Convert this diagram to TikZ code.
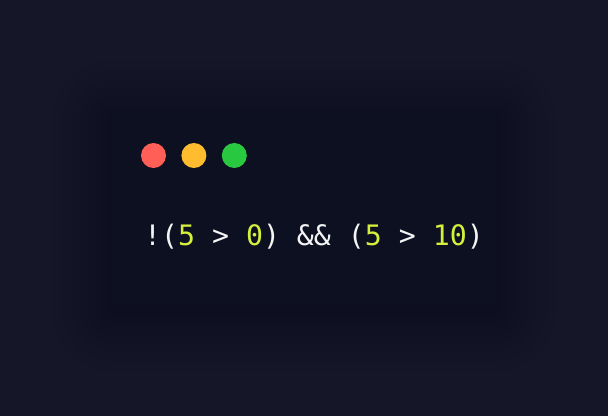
\documentclass[tikz,border=0pt]{standalone}
\usepackage{fontspec}
\setmonofont{DejaVu Sans Mono}
\usepackage{tikz}
\usetikzlibrary{positioning}
\definecolor{bgcol}{HTML}{151729}
\definecolor{wincol}{HTML}{0D1020}
\definecolor{shadecol}{HTML}{0A0C18}
\definecolor{dotred}{HTML}{FF5F57}
\definecolor{dotyel}{HTML}{FEBC2E}
\definecolor{dotgrn}{HTML}{28C840}
\definecolor{numcol}{HTML}{D4F03C}
\definecolor{txtcol}{HTML}{F4F4F4}
\tikzstyle{dot}=[circle,minimum size=25pt,inner sep=0,node distance=40pt]
\tikzstyle{code}=[font=\ttfamily\fontsize{28.2}{28}\selectfont,text=txtcol,inner sep=0]
\newcommand{\num}[1]{\textcolor{numcol}{#1}}

\begin{document}
\begin{tikzpicture}[x=1pt,y=-1pt]
  \fill[bgcol] (0,0) rectangle (608,416);
  \useasboundingbox (0,0) rectangle (608,416);
  % soft shadow round the window
  \foreach \s in {60,50,40,32,24,17,11,5}
    \fill[shadecol,opacity=0.045,rounded corners=\s pt] (112-\s,112-\s+8) rectangle (496+\s,303+\s+8);
  \fill[wincol] (112,112) rectangle (496,303);
  \node[dot,fill=dotred] (red) at (153.5,155.5) {};
  \node[dot,fill=dotyel,right=15pt of red] (yel) {};
  \node[dot,fill=dotgrn,right=15pt of yel] (grn) {};
  \node[code,anchor=base west] (expr) at (144,245)
    {!(\num{5} > \num{0}) \&\& (\num{5} > \num{10})};
\end{tikzpicture}
\end{document}
